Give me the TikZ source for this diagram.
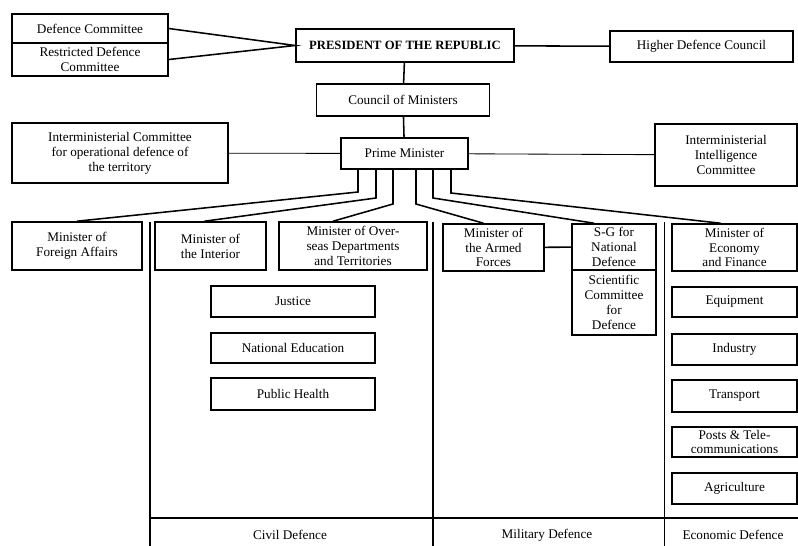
\documentclass[tikz,border=0pt]{standalone}
\usepackage{fontspec}
\setmainfont{Liberation Serif}
\usepackage{tikz}

\begin{document}
\begin{tikzpicture}[x=0.025cm, y=-0.025cm,
		box/.style={draw, line width=1.1pt, rectangle, align=center, inner sep=1pt, font=\fontsize{9.4}{10.6}\selectfont},
		link/.style={line width=1.1pt},
		thinlink/.style={line width=0.6pt},
		sector/.style={font=\fontsize{9.4}{10.6}\selectfont}]
			\useasboundingbox (0, 0) rectangle (798, 546);

			% top level
			\draw (90, 28.5) 	node[box, minimum width=3.9cm, minimum height=0.725cm] 		(defc) 	{Defence Committee};
			\draw (90, 59.5) 	node[box, minimum width=3.9cm, minimum height=0.825cm] 		(rdefc) {Restricted Defence\\Committee};
			\draw (405, 45.5) 	node[box, minimum width=5.45cm, minimum height=0.825cm, font=\bfseries\fontsize{9}{10.5}\selectfont] (pres) {PRESIDENT OF THE REPUBLIC};
			\draw (701.5, 46.5) node[box, minimum width=4.575cm, minimum height=0.775cm] 	(hdc) 	{Higher Defence Council};
			\draw (403, 100) 	node[box, minimum width=4.325cm, minimum height=0.8cm] 		(com) 	{Council of Ministers};
			\draw (120, 153) 	node[box, minimum width=5.4cm, minimum height=1.5cm] 		(imc) 	{Interministerial Committee\\for operational defence of\\the territory};
			\draw (404.5, 153.5) node[box, minimum width=3.175cm, minimum height=0.775cm] 	(pm) 	{Prime Minister};
			\draw (726, 155) 	node[box, minimum width=3.55cm, minimum height=1.55cm] 		(iic) 	{Interministerial\\Intelligence\\Committee};

			% ministers
			\draw (77, 246) 	node[box, minimum width=3.25cm, minimum height=1.2cm] 		(fa) 	{Minister of\\Foreign Affairs};
			\draw (210.5, 246) 	node[box, minimum width=2.775cm, minimum height=1.2cm] 		(int) 	{Minister of\\the Interior};
			\draw (353, 246) 	node[box, minimum width=3.7cm, minimum height=1.2cm] 		(ovs) 	{Minister of Over-\\seas Departments\\and Territories};
			\draw (493.5, 247.5) node[box, minimum width=2.525cm, minimum height=1.175cm] 	(arm) 	{Minister of\\the Armed\\Forces};
			\draw (614, 247) 	node[box, minimum width=2.1cm, minimum height=1.15cm] 		(sg) 	{S-G for\\National\\Defence};
			\draw (614, 302.5) 	node[box, minimum width=2.1cm, minimum height=1.625cm] 		(sci) 	{Scientific\\Committee\\for\\Defence};
			\draw (734.5, 247.5) node[box, minimum width=3.125cm, minimum height=1.175cm] 	(eco) 	{Minister of\\Economy\\and Finance};

			% civil ministries
			\draw (293, 301.5) 	node[box, minimum width=4.1cm, minimum height=0.775cm] 		(jus) 	{Justice};
			\draw (293, 348) 	node[box, minimum width=4.1cm, minimum height=0.75cm] 		(edu) 	{National Education};
			\draw (293, 394) 	node[box, minimum width=4.1cm, minimum height=0.8cm] 		(hea) 	{Public Health};

			% economic ministries
			\draw (734.5, 302) 	node[box, minimum width=3.125cm, minimum height=0.75cm] 	(equ) 	{Equipment};
			\draw (734.5, 349.5) node[box, minimum width=3.125cm, minimum height=0.775cm] 	(ind) 	{Industry};
			\draw (734.5, 396) 	node[box, minimum width=3.125cm, minimum height=0.8cm] 		(tra) 	{Transport};
			\draw (734.5, 442) 	node[box, minimum width=3.125cm, minimum height=0.75cm] 	(pst) 	{Posts \& Tele-\\communications};
			\draw (734.5, 488.5) node[box, minimum width=3.125cm, minimum height=0.775cm] 	(agr) 	{Agriculture};

			% sectors
			\draw[link] (150, 222) -- (150, 546);
			\draw[link] (150, 518) -- (798, 518);
			\draw[link] (433, 222) -- (433, 546);
			\draw[thinlink] (664, 222) -- (664, 546);
			\draw (290, 535) 	node[sector] 	(civ) 	{Civil Defence};
			\draw (547, 535) 	node[sector] 	(mil) 	{Military Defence};
			\draw (733, 535) 	node[sector] 	(ecd) 	{Economic Defence};

			% links
			\draw[link] (defc.east) -- (pres.west) -- (rdefc.east);
			\draw[link] (pres) -- (hdc);
			\draw[link] (pres) -- (com) -- (pm);
			\draw[thinlink] (imc) -- (pm) -- (iic);
			\draw[link] (arm) -- (sg);

			\coordinate (f1) at (358, 192);
			\coordinate (f2) at (376, 198);
			\coordinate (f3) at (393, 204);
			\coordinate (f4) at (416, 204);
			\coordinate (f5) at (433, 198);
			\coordinate (f6) at (451, 193);
			\draw[link] (pm.south -| f1) -- (f1) -- (fa.north);
			\draw[link] (pm.south -| f2) -- (f2) -- ([xshift=-0.15cm]int.north);
			\draw[link] (pm.south -| f3) -- (f3) -- ([xshift=-0.5cm]ovs.north);
			\draw[link] (pm.south -| f4) -- (f4) -- ([xshift=-0.25cm]arm.north);
			\draw[link] (pm.south -| f5) -- (f5) -- ([xshift=-0.5cm]sg.north);
			\draw[link] (pm.south -| f6) -- (f6) -- ([xshift=-0.35cm]eco.north);
		\end{tikzpicture}
\end{document}
